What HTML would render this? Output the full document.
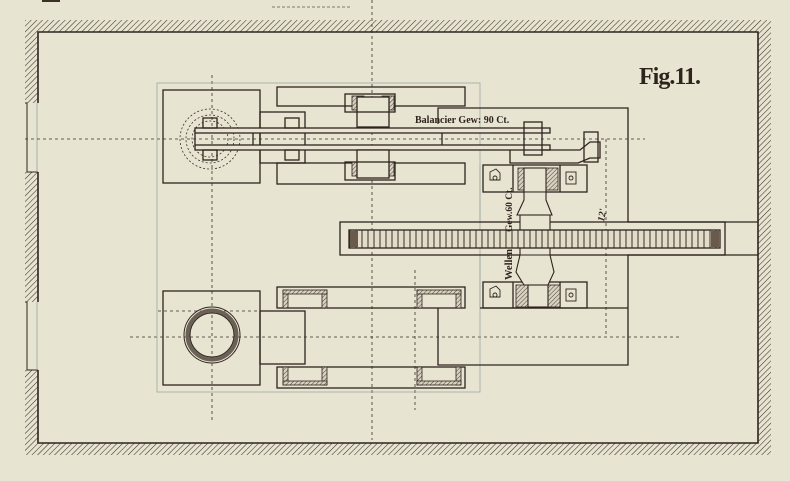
<!DOCTYPE html>
<html><head><meta charset="utf-8"><style>
html,body{margin:0;padding:0;background:#e8e4d2;}
svg{display:block}
text{font-family:"Liberation Serif",serif;fill:#2e241e;font-weight:bold}
</style></head><body>
<svg width="790" height="481" viewBox="0 0 790 481" xmlns="http://www.w3.org/2000/svg">
<defs>
<pattern id="h" width="4" height="4" patternUnits="userSpaceOnUse" patternTransform="rotate(45)">
<rect width="4" height="4" fill="#e8e4d2"/><line x1="0" y1="0" x2="0" y2="4" stroke="#3a3028" stroke-width="1.1"/>
</pattern>
<pattern id="h2" width="3" height="3" patternUnits="userSpaceOnUse" patternTransform="rotate(45)">
<rect width="3" height="3" fill="#d8d3c0"/><line x1="0" y1="0" x2="0" y2="3" stroke="#4a4038" stroke-width="1"/>
</pattern>
<pattern id="teeth" x="349" y="0" width="6" height="20" patternUnits="userSpaceOnUse">
<rect width="6" height="20" fill="#e2ddc9"/><line x1="1" y1="0" x2="1" y2="20" stroke="#3a3028" stroke-width="1"/>
</pattern>
</defs>
<rect width="790" height="481" fill="#e8e4d2"/>
<!-- walls -->
<rect x="25" y="20" width="746" height="12" fill="url(#h)"/>
<rect x="25" y="443" width="746" height="12" fill="url(#h)"/>
<rect x="758" y="20" width="13" height="435" fill="url(#h)"/>
<rect x="25" y="20" width="13" height="83" fill="url(#h)"/>
<rect x="25" y="172" width="13" height="130" fill="url(#h)"/>
<rect x="25" y="370" width="13" height="85" fill="url(#h)"/>
<g fill="none" stroke="#2e241e" stroke-width="1.6">
<polyline points="38,103 38,32 758,32 758,443 38,443 38,370"/>
<line x1="38" y1="172" x2="38" y2="302"/>
<polyline points="25,103 27,103 27,172 38,172" stroke-width="1"/>
<polyline points="25,302 27,302 27,370 38,370" stroke-width="1"/>
</g>
<g stroke="#8fa29a" stroke-width="0.8"><line x1="37" y1="103" x2="37" y2="172"/><line x1="37" y1="302" x2="37" y2="370"/></g>
<!-- top stray -->
<line x1="272" y1="7" x2="350" y2="7" stroke="#555" stroke-width="0.8" stroke-dasharray="3,2"/>
<rect x="42" y="0" width="18" height="2" fill="#3a3028"/>

<!-- center lines -->
<g stroke="#3a3028" stroke-width="0.8" stroke-dasharray="3,3" fill="none">
<line x1="25" y1="139" x2="645" y2="139"/>
<line x1="130" y1="337" x2="680" y2="337"/>
<line x1="372" y1="0" x2="372" y2="440"/>
<line x1="212" y1="75" x2="212" y2="420"/>
<line x1="415" y1="270" x2="415" y2="410"/>
<line x1="606" y1="139" x2="606" y2="337"/>
<line x1="158" y1="311" x2="305" y2="311"/>
</g>
<g stroke="#9aa89f" stroke-width="0.8" fill="none">
<rect x="157" y="83" width="323" height="309"/>
<line x1="480" y1="165" x2="480" y2="222"/><line x1="480" y1="255" x2="480" y2="308"/>
</g>
<g fill="none" stroke="#2e241e" stroke-width="1.3">
<rect x="163" y="90" width="97" height="93"/>
<rect x="277" y="87" width="188" height="19"/>
<rect x="277" y="163" width="188" height="21"/>
<rect x="260" y="112" width="45" height="51"/>
<polyline points="438,124 438,108 628,108 628,222 758,222"/>
<polyline points="758,255 628,255 628,365 438,365 438,308"/>
<rect x="340" y="222" width="385" height="33"/>
<line x1="480" y1="308" x2="628" y2="308"/>
<rect x="483" y="165" width="104" height="27"/>
<rect x="483" y="282" width="104" height="26"/>
<line x1="513" y1="165" x2="513" y2="192"/><line x1="560" y1="165" x2="560" y2="192"/>
<line x1="513" y1="282" x2="513" y2="308"/><line x1="560" y1="282" x2="560" y2="308"/>
<rect x="163" y="291" width="97" height="94"/>
<rect x="260" y="311" width="45" height="53"/>
<rect x="277" y="287" width="188" height="21"/>
<rect x="277" y="367" width="188" height="21"/>
</g>
<g fill="url(#h2)" stroke="#2e241e" stroke-width="0.8">
<rect x="283" y="290" width="5" height="18"/><rect x="322" y="290" width="5" height="18"/><rect x="283" y="290" width="44" height="4"/>
<rect x="417" y="290" width="5" height="18"/><rect x="456" y="290" width="5" height="18"/><rect x="417" y="290" width="44" height="4"/>
<rect x="283" y="367" width="5" height="18"/><rect x="322" y="367" width="5" height="18"/><rect x="283" y="381" width="44" height="4"/>
<rect x="417" y="367" width="5" height="18"/><rect x="456" y="367" width="5" height="18"/><rect x="417" y="381" width="44" height="4"/>
<rect x="518" y="168" width="12" height="22"/><rect x="546" y="168" width="12" height="22"/>
<rect x="516" y="285" width="12" height="22"/><rect x="548" y="285" width="12" height="22"/>
<rect x="352" y="96" width="12" height="14"/><rect x="382" y="96" width="12" height="14"/>
<rect x="352" y="162" width="12" height="14"/><rect x="382" y="162" width="12" height="14"/>
</g>
<circle cx="212" cy="335" r="28" fill="none" stroke="#2e241e" stroke-width="1"/>
<circle cx="212" cy="335" r="24.5" fill="none" stroke="#6a6055" stroke-width="4"/>
<circle cx="212" cy="335" r="22" fill="none" stroke="#2e241e" stroke-width="1"/>
<g fill="none" stroke="#3a3028" stroke-width="0.8" stroke-dasharray="2,2">
<circle cx="210" cy="139" r="30"/><circle cx="210" cy="139" r="24"/><circle cx="210" cy="139" r="18"/>
</g>
<g fill="none" stroke="#2e241e" stroke-width="1.3">
<rect x="195" y="128" width="355" height="5" fill="#e8e4d2"/>
<rect x="195" y="145" width="355" height="5" fill="#e8e4d2"/>
<line x1="195" y1="133" x2="195" y2="145"/>
<line x1="253" y1="133" x2="253" y2="145"/>
<line x1="442" y1="133" x2="442" y2="145"/>
<rect x="357" y="97" width="32" height="30" fill="#e8e4d2"/>
<rect x="357" y="150" width="32" height="28" fill="#e8e4d2"/>
<rect x="345" y="94" width="50" height="18"/>
<rect x="345" y="162" width="50" height="18"/>
<rect x="203" y="118" width="14" height="10"/><rect x="203" y="150" width="14" height="10"/>
<rect x="285" y="118" width="14" height="10"/><rect x="285" y="150" width="14" height="10"/>
<rect x="524" y="122" width="18" height="33"/>
<path d="M542,150 L580,150 L590,142 L600,142 L600,158 L590,158 L578,163 L510,163 L510,150"/>
<rect x="584" y="132" width="14" height="30"/>
</g>
<g fill="#e8e4d2" stroke="#2e241e" stroke-width="1.1">
<rect x="524" y="168" width="22" height="24"/>
<path d="M524,192 L524,200 L517,215 L552,215 L546,200 L546,192 Z"/>
<rect x="520" y="215" width="30" height="60"/>
<path d="M520,255 L516,272 L524,285 L548,285 L554,272 L550,255 Z"/>
<rect x="528" y="285" width="20" height="22"/>
</g>
<rect x="349" y="230" width="371" height="18" fill="url(#teeth)" stroke="#2e241e" stroke-width="1.3"/>
<rect x="350" y="231" width="8" height="16" fill="#6a5a4e"/>
<rect x="711" y="231" width="8" height="16" fill="#6a5a4e"/>
<g fill="none" stroke="#2e241e" stroke-width="0.9">
<path d="M490,172 l6,-3 l4,4 l0,7 l-10,0 z"/><circle cx="495" cy="178" r="2"/>
<rect x="566" y="172" width="10" height="12"/><circle cx="571" cy="178" r="2"/>
<path d="M490,289 l6,-3 l4,4 l0,7 l-10,0 z"/><circle cx="495" cy="295" r="2"/>
<rect x="566" y="289" width="10" height="12"/><circle cx="571" cy="295" r="2"/>
</g>
<text x="415" y="123" font-size="10">Balancier Gew: 90 Ct.</text>
<text transform="translate(512,232) rotate(-90)" font-size="9.5">Gew.60 Ct.</text>
<text transform="translate(512,280) rotate(-90)" font-size="10.5">Wellen</text>
<text transform="translate(604,222) rotate(-80)" font-size="10" font-style="italic">12'</text>
<text x="639" y="84" font-size="24" style="letter-spacing:-1px">Fig.11.</text>
</svg>
</body></html>
